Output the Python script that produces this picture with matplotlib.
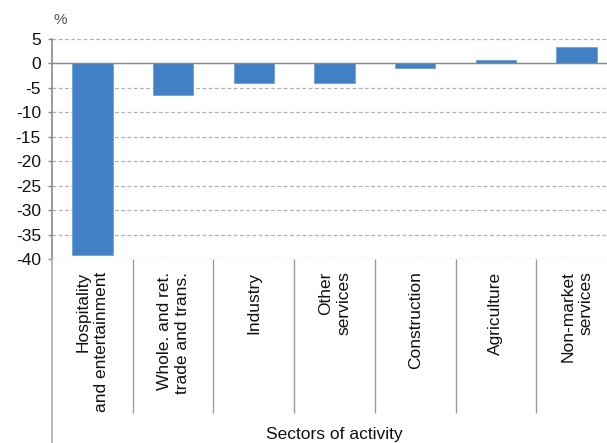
import matplotlib
matplotlib.use("Agg")
import matplotlib.pyplot as plt
from matplotlib.lines import Line2D
import numpy as np

plt.rcParams['font.family'] = ['Liberation Sans', 'DejaVu Sans']

categories = ["Hospitality\nand entertainment", "Whole. and ret.\ntrade and trans.",
              "Industry", "Other\nservices", "Construction", "Agriculture",
              "Non-market\nservices"]
values = [-39.2, -6.5, -4.1, -4.0, -0.9, 0.8, 3.4]
yticks = [5, 0, -5, -10, -15, -20, -25, -30, -35, -40]
xlabel = "Sectors of activity"
unit = "%"

W, H = 607, 443
fig = plt.figure(figsize=(W / 100, H / 100), dpi=100)
left_px, right_px, top_px, bot_px = 52, 617, 39, 259
ax = fig.add_axes([left_px / W, 1 - bot_px / H, (right_px - left_px) / W, (bot_px - top_px) / H])

x = np.arange(len(categories))
ax.bar(x, values, width=0.5, color="#4180C4", edgecolor="#6FA0D8", linewidth=0.6, zorder=3)

ax.set_xlim(-0.5, len(categories) - 0.5)
ax.set_ylim(-40, 5)
ax.set_yticks(yticks)
ax.set_yticklabels([str(t) for t in yticks])
ax.yaxis.grid(True, color="#b0b0b0", linestyle=(0, (3, 2)), linewidth=0.9, zorder=0)
ax.axhline(0, color="#8a8a8a", linewidth=1.0, zorder=4)

for s in ["top", "right", "bottom"]:
    ax.spines[s].set_visible(False)
ax.spines["left"].set_color("#8a8a8a")
ax.spines["left"].set_linewidth(1.2)

ax.tick_params(axis="y", length=3, width=1, color="#8a8a8a", labelsize=12.5, labelcolor="#111111", pad=5)

ax.set_xticks(x)
ax.set_xticklabels(categories, rotation=90, ha="center", va="top", multialignment="right",
                   fontsize=12.5, color="#111111", linespacing=1.25)
ax.tick_params(axis="x", which="major", length=0, pad=9)
ax.set_xticks(np.arange(0.5, len(categories) - 0.5, 1.0), minor=True)
ax.tick_params(axis="x", which="minor", length=(413 - 259) * 0.72, width=1, color="#9a9a9a", direction="out")

# left axis extension down to bottom
fig.add_artist(Line2D([left_px / W, left_px / W], [0, 1 - bot_px / H], transform=fig.transFigure,
                      color="#aaaaaa", linewidth=1.2))

fig.text((left_px + right_px) / 2 / W, 1 - 434 / H, xlabel, ha="center", va="center",
         fontsize=12.5, color="#111111")
fig.text(60 / W, 1 - 20 / H, unit, ha="center", va="center", fontsize=11, color="#555555")

fig.savefig("out.png", dpi=100)
